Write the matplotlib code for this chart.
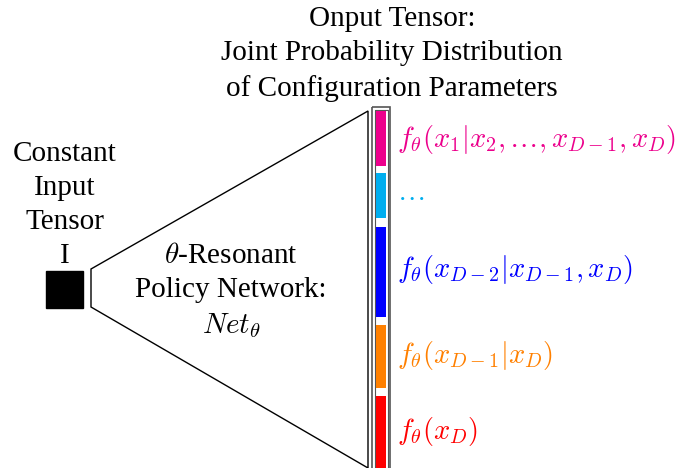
import matplotlib
matplotlib.use('Agg')
import matplotlib.pyplot as plt
from matplotlib.patches import Rectangle, Polygon

plt.rcParams['font.family'] = ['Liberation Serif', 'DejaVu Serif']
plt.rcParams['mathtext.fontset'] = 'cm'

# output tensor segments (top, bottom in px) and their labels
seg_top = [111, 173, 227, 325, 396]
seg_bot = [166, 218, 317, 388, 470]
seg_colors = ['#EC008C', '#00AEEF', '#0000FF', '#FF8000', '#FF0000']
seg_labels = [r'$f_\theta(x_1|x_2,\ldots,x_{D-1},x_D)$',
              r'$\ldots$',
              r'$f_\theta(x_{D-2}|x_{D-1},x_D)$',
              r'$f_\theta(x_{D-1}|x_D)$',
              r'$f_\theta(x_D)$']
label_y = [140, 193, 270, 355, 432]

fig = plt.figure(figsize=(6.88, 4.68), dpi=100)
ax = fig.add_axes([0, 0, 1, 1])
ax.set_xlim(0, 688)
ax.set_ylim(468, 0)
ax.axis('off')

# input square
ax.add_patch(Rectangle((46, 271), 37, 37, color='black'))

# network funnel
ax.add_patch(Polygon([(91, 269), (368, 111), (368, 468), (91, 307)],
                     closed=True, fill=False, ec='black', lw=1.0))

# output tensor box (double line)
ax.add_patch(Rectangle((372, 107), 18, 370, fill=False, ec='#555555', lw=1.2))
ax.add_patch(Rectangle((374.5, 109.5), 13, 370, fill=False, ec='#555555', lw=0.8))

for i in range(len(seg_top)):
    ax.add_patch(Rectangle((376, seg_top[i]), 10, seg_bot[i] - seg_top[i],
                           color=seg_colors[i], lw=0))
    ax.text(397, label_y[i], seg_labels[i], color=seg_colors[i], fontsize=20.5,
            ha='left', va='center')

ax.text(65, 205, 'Constant\nInput\nTensor\nI', fontsize=21, ha='center',
        va='center', linespacing=1.4)
ax.text(392, 54, 'Onput Tensor:\nJoint Probability Distribution\nof Configuration Parameters',
        fontsize=21, ha='center', va='center', linespacing=1.4)
ax.text(231, 273, '$\\theta$-Resonant\nPolicy Network:', fontsize=21, ha='center',
        va='center', linespacing=1.4)
ax.text(231, 326, r'$Net_\theta$', fontsize=21, ha='center', va='center')

fig.savefig('out.png', dpi=100)
